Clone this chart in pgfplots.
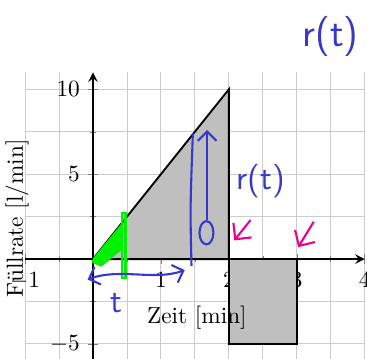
\documentclass[border=0pt]{standalone}
\usepackage{fontspec}
\usepackage{pgfplots}
\pgfplotsset{compat=1.18}
\usetikzlibrary{arrows.meta}
\definecolor{pen}{RGB}{55,55,205}
\definecolor{hl}{RGB}{0,240,0}
\begin{document}
\begin{tikzpicture}
% the reference is a crop of a larger page
\useasboundingbox (-40pt,-42.6pt) rectangle (117.8pt,111.4pt);
\clip (-40pt,-42.6pt) rectangle (117.8pt,111.4pt);
\begin{axis}[
  anchor=origin, at={(0,0)},
  x=29.2pt, y=7.3pt,
  axis lines=middle, axis line style={thick},
  xmin=-1, xmax=4, ymin=-6, ymax=11,
  xtick={-1,0,1,2,3,4}, ytick={-5,0,5,10},
  minor xtick={-0.5,0.5,1.5,2.5,3.5},
  minor ytick={-2.5,2.5,7.5},
  grid=both,
  grid style={gray!40, thin},
  minor grid style={gray!40, thin},
  clip=false,
  xlabel={Zeit [min]},
  ylabel={Füllrate [l/min]},
  xlabel style={at={(axis cs:1.53,-3.47)}, anchor=center},
  ylabel style={at={(axis cs:-1.12,2.4)}, anchor=center, rotate=90},
]
\addplot[thick, fill=gray!50, draw=black] coordinates {(0,0) (2,10) (2,0)} -- cycle;
\addplot[thick, fill=gray!50, draw=black] coordinates {(2,0) (2,-5) (3,-5) (3,0)} -- cycle;

% handwritten notes
\fill[hl] (axis cs:0.0,0.05) -- (axis cs:0.44,2.2) -- (axis cs:0.44,0.6) -- (axis cs:0.12,-0.45) -- (axis cs:-0.02,-0.2) -- cycle;
\draw[hl, line width=1pt] (axis cs:0.43,-1.1) rectangle (axis cs:0.48,2.7);
\draw[pen, line width=0.9pt] (axis cs:1.45,-0.4) .. controls (axis cs:1.43,3) .. (axis cs:1.47,7.4);
\draw[pen, line width=0.9pt, -{Straight Barb[length=4pt]}] (axis cs:1.68,2.3) -- (axis cs:1.68,7.6);
\draw[pen, line width=0.9pt] (axis cs:1.67,1.55) ellipse [x radius=3pt, y radius=5pt];
\draw[pen, line width=0.9pt, {Straight Barb[length=4pt]}-{Straight Barb[length=4pt]}]
  (axis cs:-0.08,-1.2) .. controls (axis cs:0.4,-0.5) and (axis cs:0.9,-1.3) .. (axis cs:1.35,-0.65);
\node[pen, font=\sffamily\Large] at (axis cs:0.35,-2.6) {t};
\node[pen, font=\sffamily\Large] at (axis cs:2.47,4.6) {r(t)};
\node[pen, font=\sffamily\LARGE] at (axis cs:3.5,13.1) {r(t)};
\draw[magenta, line width=0.9pt, -{Straight Barb[length=5pt]}] (axis cs:2.32,2.3) -- (axis cs:2.08,1.1);
\draw[magenta, line width=0.9pt, -{Straight Barb[length=5pt]}] (axis cs:3.25,2.2) -- (axis cs:3.02,0.7);
\end{axis}
\end{tikzpicture}
\end{document}
